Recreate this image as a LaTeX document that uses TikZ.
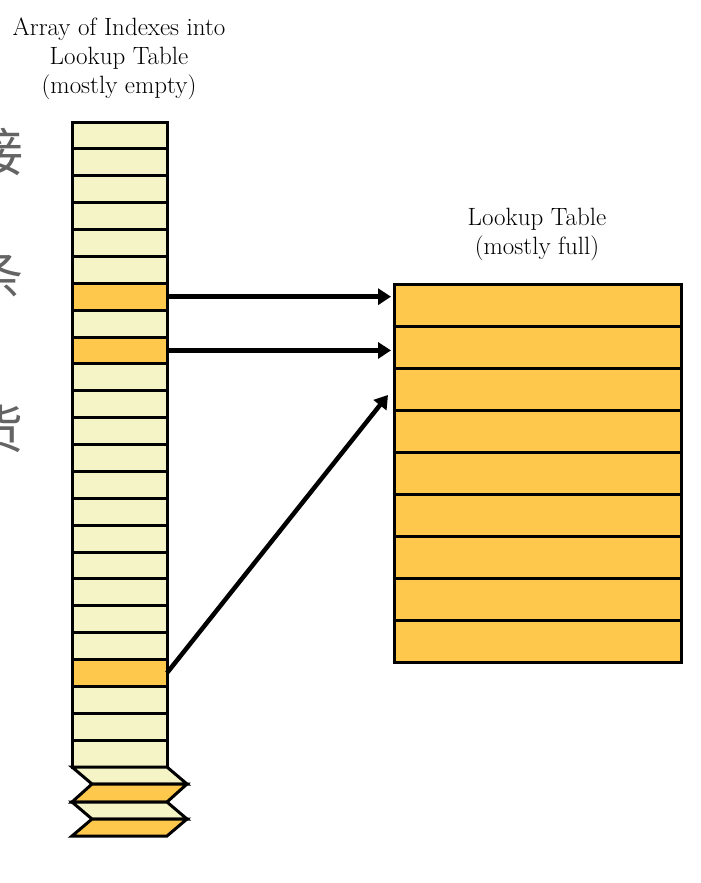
\documentclass[tikz,border=0pt]{standalone}
\usepackage{fontspec}
\newfontfamily\cjkfont{Noto Sans CJK SC}
\usetikzlibrary{arrows.meta}
\definecolor{cellY}{RGB}{245,244,198}
\definecolor{cellO}{RGB}{254,200,76}
\definecolor{cjkgray}{RGB}{100,100,100}
\begin{document}
\begin{tikzpicture}[x=1pt,y=-1pt,
  cell/.style={draw=black, line width=3pt, minimum width=95pt, minimum height=26.875pt, inner sep=0pt, outer sep=0pt},
  trow/.style={draw=black, line width=3pt, fill=cellO, minimum width=287pt, minimum height=42.11pt, inner sep=0pt, outer sep=0pt},
  zz/.style={draw=black, line width=3pt, line join=miter},
  arr/.style={draw=black, line width=4.5pt, -{Triangle[length=13pt,width=16pt]}},
  lbl/.style={font=\fontsize{25}{29}\selectfont, align=center, inner sep=0pt},
  cjk/.style={font=\cjkfont\fontsize{52}{52}\selectfont, text=cjkgray, inner sep=0pt}]
\useasboundingbox (0,0) rectangle (701,883);
\fill[white] (0,0) rectangle (701,883);
% left column cells
\foreach \i in {0,...,23}{
  \def\fc{cellY}
  \ifnum\i=6 \def\fc{cellO}\fi
  \ifnum\i=8 \def\fc{cellO}\fi
  \ifnum\i=20 \def\fc{cellO}\fi
  \node[cell, fill=\fc] (c\i) at (119.5, {122+(\i+0.5)*26.875}) {};
}
% zigzag continuation
\draw[zz, fill=cellY] (72,767) -- (167,767) -- (187,784) -- (92,784) -- cycle;
\draw[zz, fill=cellO] (92,784) -- (187,784) -- (167,802) -- (72,802) -- cycle;
\draw[zz, fill=cellY] (72,802) -- (167,802) -- (187,819) -- (92,819) -- cycle;
\draw[zz, fill=cellO] (92,819) -- (187,819) -- (167,836) -- (72,836) -- cycle;
% lookup table
\foreach \i in {0,...,8}{
  \node[trow] (t\i) at (537.5, {284+(\i+0.5)*42.11}) {};
}
% labels
\node[lbl] (title) at (119,59) {Array of Indexes into\\Lookup Table\\(mostly empty)};
\node[lbl] (ttitle) at (537,234) {Lookup Table\\(mostly full)};
% clipped CJK characters at left edge
\node[cjk] (k1) at (-2,152) {接};
\node[cjk] (k2) at (-2,275) {条};
\node[cjk] (k3) at (-2,429) {货};
% arrows
\coordinate (p3) at (388,395);
\draw[arr] (c6.east) -- ([xshift=-3pt]c6.east -| t0.west);
\draw[arr] (c8.east) -- ([xshift=-3pt]c8.east -| t0.west);
\draw[arr] (c20.east) -- (p3);
\end{tikzpicture}
\end{document}
